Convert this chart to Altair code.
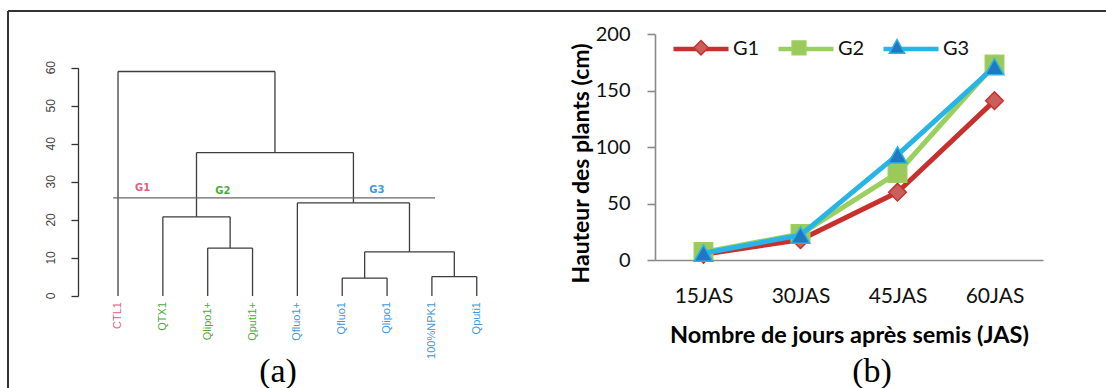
import altair as alt
import pandas as pd

# ---------------- panel (a): dendrogram ----------------
leaves = ["CTL1", "QTX1", "Qlipo1+", "Qputi1+", "Qfluo1+", "Qfluo1", "Qlipo1", "100%NPK1", "Qputi1"]
leaf_groups = ["G1", "G2", "G2", "G2", "G3", "G3", "G3", "G3", "G3"]
# R-style merge table: negative = leaf (1-based order), positive = earlier merge
merge_left = [-3, -2, -6, -8, 3, -5, 2, -1]
merge_right = [-4, 1, -7, -9, 4, 5, 6, 7]
merge_height = [12.6, 20.8, 4.7, 5.1, 11.6, 24.5, 37.7, 59.0]
cut_height = 25.8
cut_from = 0.89
cut_to = 8.07
group_names = ["G1", "G2", "G3"]
group_label_x = [1.55, 3.34, 6.77]
group_label_h = [28.5, 27.6, 27.8]
dendro_ticks = [0, 10, 20, 30, 40, 50, 60]

# ---------------- panel (b): plant height ----------------
days = ["15JAS", "30JAS", "45JAS", "60JAS"]
g1_height = [5, 18, 60, 141]
g2_height = [7, 23, 77, 173]
g3_height = [6, 22, 93, 171]
b_ticks = [0, 50, 100, 150, 200]

label_colors = ["#DF5F7F", "#4FAA3E", "#3F97DE"]
line_colors = ["#C8302E", "#9BD05F", "#27B4E6"]
marker_fill = ["#C95F5B", "#9BC95C", "#1F78C1"]
marker_shapes = ["diamond", "square", "triangle-up"]
marker_sizes = [310, 340, 350]
legend_paths = [
    "M0,-0.26L0.26,0L0,0.26L-0.26,0Z",
    "M-0.25,-0.25L0.25,-0.25L0.25,0.25L-0.25,0.25Z",
    "M0,-0.3L0.28,0.2L-0.28,0.2Z",
]

leaf_font = "'Liberation Sans Narrow', 'Liberation Sans', Arial, sans-serif"
excel_font = "Lato"

# ---- build dendrogram segments from the merge table ----
node_pos = []


def child(c):
    return (float(-c), 0.0) if c < 0 else node_pos[c - 1]


rows = []
for l, r, h in zip(merge_left, merge_right, merge_height):
    xl, hl = child(l)
    xr, hr = child(r)
    rows.append({"x": xl, "y": hl, "x2": xl, "y2": h})
    rows.append({"x": xl, "y": h, "x2": xr, "y2": h})
    rows.append({"x": xr, "y": hr, "x2": xr, "y2": h})
    node_pos.append(((xl + xr) / 2, h))
seg_df = pd.DataFrame(rows)
leaf_df = pd.DataFrame({"leaf": leaves, "pos": list(range(1, len(leaves) + 1)),
                        "h": [0] * len(leaves), "group": leaf_groups})
cut_df = pd.DataFrame({"x": [cut_from], "x2": [cut_to], "y": [cut_height]})
glab_df = pd.DataFrame({"group": group_names, "x": group_label_x, "y": group_label_h})
tick_df = pd.DataFrame({"t": dendro_ticks})

xa = alt.Scale(domain=[0.5, 10.5], range=[95.6, 544], nice=False, zero=False)
ya = alt.Scale(domain=[0, 60], range=[296, 67.7], nice=False, zero=False)
col_scale = alt.Scale(domain=group_names, range=label_colors)

ya_axis = alt.Axis(orient="left", offset=-78, values=dendro_ticks, tickSize=7, tickWidth=1.3,
                   tickColor="#333", domainColor="#333", domainWidth=1.3, labels=False,
                   title=None, grid=False)

segs = alt.Chart(seg_df).mark_rule(color="#3d3d3d", strokeWidth=1.3).encode(
    x=alt.X("x:Q", scale=xa, axis=None),
    y=alt.Y("y:Q", scale=ya, axis=ya_axis),
    x2="x2:Q", y2="y2:Q")
# y tick labels of the dendrogram, written parallel to the axis (as R does)
tick_text = alt.Chart(tick_df).mark_text(angle=270, align="center", baseline="bottom",
                                         font=leaf_font, fontSize=12, color="#444").encode(
    x=alt.value(58),
    y=alt.Y("t:Q", scale=ya, axis=None),
    text="t:Q")
cut = alt.Chart(cut_df).mark_rule(color="#666", strokeWidth=1.1).encode(
    x=alt.X("x:Q", scale=xa, axis=None), x2="x2:Q",
    y=alt.Y("y:Q", scale=ya, axis=None))
leaf_text = alt.Chart(leaf_df).mark_text(angle=270, align="right", baseline="middle", dx=-6,
                                         font=leaf_font, fontSize=11).encode(
    x=alt.X("pos:Q", scale=xa, axis=None),
    y=alt.Y("h:Q", scale=ya, axis=None),
    text="leaf:N",
    color=alt.Color("group:N", scale=col_scale, legend=None))
glab = alt.Chart(glab_df).mark_text(fontWeight="bold", fontSize=10, font="DejaVu Sans").encode(
    x=alt.X("x:Q", scale=xa, axis=None),
    y=alt.Y("y:Q", scale=ya, axis=None),
    text="group:N",
    color=alt.Color("group:N", scale=col_scale, legend=None))

one = pd.DataFrame({"k": [0]})
frame_left = alt.Chart(one).mark_rule(color="#333", strokeWidth=2).encode(
    x=alt.value(8), y=alt.value(11), y2=alt.value(388))
frame_top = alt.Chart(one).mark_rule(color="#333", strokeWidth=2).encode(
    x=alt.value(8), x2=alt.value(1106), y=alt.value(11))
cap_a = alt.Chart(pd.DataFrame({"t": ["(a)"]})).mark_text(
    font="Liberation Serif", fontSize=34, baseline="alphabetic").encode(
    x=alt.value(278), y=alt.value(382), text="t:N")
cap_b = alt.Chart(pd.DataFrame({"t": ["(b)"]})).mark_text(
    font="Liberation Serif", fontSize=34, baseline="alphabetic").encode(
    x=alt.value(872), y=alt.value(382), text="t:N")

# ---------------- panel (b) ----------------
series = {"G1": g1_height, "G2": g2_height, "G3": g3_height}
b_rows = []
for g in group_names:
    for d, v in zip(days, series[g]):
        b_rows.append({"group": g, "day": d, "h": v})
df_b = pd.DataFrame(b_rows)

xb = alt.Scale(type="point", domain=days, range=[655, 1043], padding=0.5)
yb = alt.Scale(domain=[0, 200], range=[260, 34], nice=False, zero=False)
stroke_scale = alt.Scale(domain=group_names, range=line_colors)
fill_scale = alt.Scale(domain=group_names, range=marker_fill)

xb_axis = alt.Axis(orient="bottom", offset=-128, ticks=False, tickSize=0, domainColor="#8a8a8a",
                   domainWidth=1.6, labelFont=excel_font, labelFontSize=21, labelColor="#111",
                   labelAngle=0, labelBaseline="alphabetic", labelPadding=42,
                   title="Nombre de jours après semis (JAS)", titleFont=excel_font, titleFontSize=23.5,
                   titleFontWeight="bold", titleColor="#000", titleBaseline="alphabetic", titleY=82,
                   grid=False)
yb_axis = alt.Axis(orient="left", offset=-655, values=b_ticks, tickSize=8, tickWidth=1.6,
                   tickColor="#8a8a8a", domainColor="#8a8a8a", domainWidth=1.6,
                   labelFont=excel_font, labelFontSize=20, labelColor="#111", labelPadding=17,
                   title="Hauteur des plants (cm)", titleFont=excel_font, titleFontSize=23,
                   titleFontWeight="bold", titleColor="#000", titleBaseline="alphabetic",
                   titleX=-67, titleY=163, grid=False)

line_legend = alt.Legend(orient="none", legendX=671, legendY=19, direction="horizontal", title=None,
                         symbolType="M-1,0L1,0", symbolSize=3025, symbolStrokeWidth=4.5,
                         labelFont=excel_font, labelFontSize=20, labelColor="#111", labelOffset=2,
                         columnPadding=9, padding=0, symbolOpacity=1)
marker_legend = alt.Legend(orient="none", legendX=672.5, legendY=19, direction="horizontal", title=None,
                           symbolSize=3025, symbolStrokeWidth=1.5, labelFont=excel_font,
                           labelFontSize=20, labelColor="#111", labelOffset=5, labelOpacity=0,
                           columnPadding=9, padding=0, symbolOpacity=1)

b_layers = []
for i, g in enumerate(group_names):
    line = alt.Chart(df_b).transform_filter(alt.datum.group == g).mark_line(
        strokeWidth=5, strokeCap="round", strokeJoin="round").encode(
        x=alt.X("day:N", scale=xb, sort=days, axis=xb_axis if i == 0 else None),
        y=alt.Y("h:Q", scale=yb, axis=yb_axis if i == 0 else None),
        stroke=alt.Stroke("group:N", scale=stroke_scale, legend=line_legend if i == 0 else None))
    pts = alt.Chart(df_b).transform_filter(alt.datum.group == g).mark_point(
        shape=marker_shapes[i], filled=True, size=marker_sizes[i], opacity=1, strokeWidth=1.5).encode(
        x=alt.X("day:N", scale=xb, sort=days, axis=None),
        y=alt.Y("h:Q", scale=yb, axis=None),
        fill=alt.Fill("group:N", scale=fill_scale, legend=None),
        stroke=alt.Stroke("group:N", scale=stroke_scale, legend=None))
    b_layers += [line, pts]

legend_layer = alt.Chart(df_b).transform_filter("false").mark_point(
    filled=True, opacity=1, strokeWidth=1.5).encode(
    fill=alt.Fill("group:N", scale=fill_scale, legend=marker_legend),
    stroke=alt.Stroke("group:N", scale=stroke_scale, legend=marker_legend),
    shape=alt.Shape("group:N", scale=alt.Scale(domain=group_names, range=legend_paths),
                    legend=marker_legend))

chart = alt.layer(
    segs, tick_text, cut, leaf_text, glab, *b_layers, legend_layer,
    frame_left, frame_top, cap_a, cap_b
).resolve_scale(
    x="independent", y="independent"
).resolve_legend(
    stroke="independent", fill="independent", shape="independent"
).properties(
    width=1106, height=388, padding=0, autosize=alt.AutoSizeParams(type="none"),
    background="white"
).configure_view(stroke=None)

chart.save("out.html", embed_options={"renderer": "svg", "actions": False})
